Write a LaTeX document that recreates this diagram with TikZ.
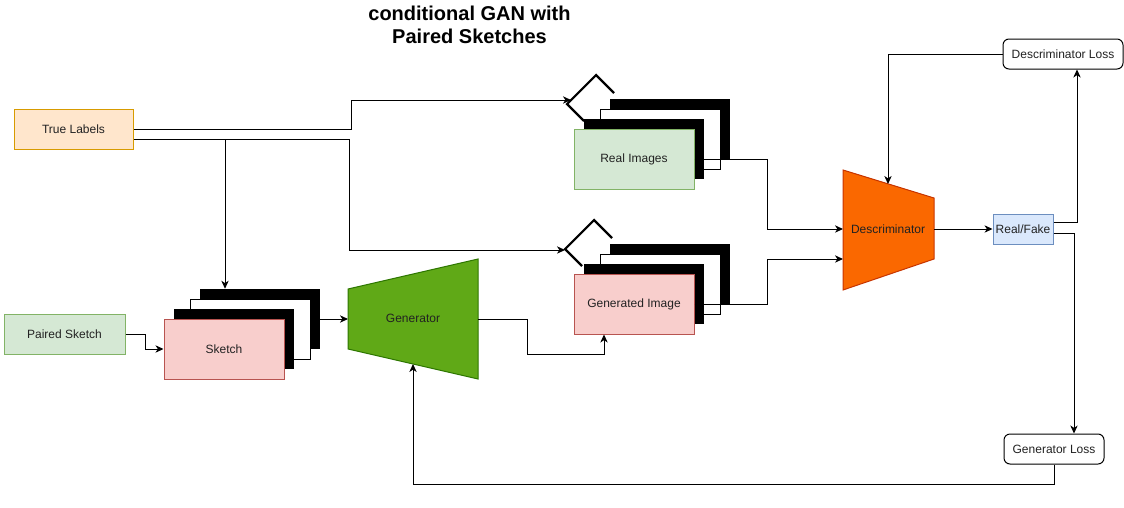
\documentclass[tikz,border=0pt]{standalone}
\usepackage{fontspec}
\setmainfont{Liberation Sans}
\usetikzlibrary{arrows.meta}
\definecolor{tlfill}{HTML}{FFE6CC}\definecolor{tldraw}{HTML}{D79B00}
\definecolor{gfill}{HTML}{D5E8D4}\definecolor{gdraw}{HTML}{82B366}
\definecolor{pfill}{HTML}{F8CECC}\definecolor{pdraw}{HTML}{B85450}
\definecolor{bfill}{HTML}{DAE8FC}\definecolor{bdraw}{HTML}{6C8EBF}
\definecolor{genfill}{HTML}{60A917}\definecolor{gendraw}{HTML}{2D7600}
\definecolor{disfill}{HTML}{FA6800}\definecolor{disdraw}{HTML}{C73500}
\definecolor{txt}{HTML}{222222}
\begin{document}
\begin{tikzpicture}[x=0.75pt,y=-0.75pt,
  lbl/.style={font=\fontsize{9}{11}\selectfont, text=txt},
  box/.style={rectangle, draw, line width=0.75pt, inner sep=0pt, lbl},
  card/.style={box, minimum width=90pt, minimum height=45pt},
  blackcard/.style={rectangle, fill=black, minimum width=90pt, minimum height=45pt, inner sep=0pt},
  whitecard/.style={rectangle, draw=black, fill=white, line width=0.75pt, minimum width=90pt, minimum height=45pt, inner sep=0pt},
  lossbox/.style={box, draw=black, fill=white, rounded corners=4.5pt, minimum height=22.5pt},
  chev/.style={draw=black, line width=1.6pt},
  conn/.style={draw=black, line width=0.75pt, -{Stealth[length=6pt,width=5.5pt,inset=1.8pt]}},
  ]
\useasboundingbox (0,0) rectangle (1124,507);

% title
\node[font=\bfseries\fontsize{15}{17.25}\selectfont, align=center] (title) at (469.5,24.5) {conditional GAN with\\Paired Sketches};

% input boxes
\node[box, fill=tlfill, draw=tldraw, minimum width=89.25pt, minimum height=30pt] (TL) at (73.5,129) {True Labels};
\node[box, fill=gfill, draw=gdraw, minimum width=90.75pt, minimum height=30pt] (PS) at (64.5,334) {Paired Sketch};

% sketch stack
\node[blackcard] (S4) at (260,319) {};
\node[whitecard] (S3) at (250,329) {};
\node[blackcard] (S2) at (234,339) {};
\node[card, fill=pfill, draw=pdraw] (S1) at (224,349) {Sketch};

% real images stack
\node[blackcard] (R4) at (670,129) {};
\node[whitecard] (R3) at (660,139) {};
\node[blackcard] (R2) at (644,149) {};
\node[card, fill=gfill, draw=gdraw] (R1) at (634,159) {Real Images};
\draw[chev] (584,121) -- (567,104) -- (596,75) -- (614,93);
\coordinate (RCh) at (571,100);

% generated image stack
\node[blackcard] (G4) at (670,274) {};
\node[whitecard] (G3) at (660,284) {};
\node[blackcard] (G2) at (644,294) {};
\node[card, fill=pfill, draw=pdraw] (G1) at (634,304) {Generated Image};
\draw[chev] (582,266) -- (565,249) -- (594,220) -- (612,238);
\coordinate (GCh) at (565,250);

% generator
\draw[fill=genfill, draw=gendraw, line width=0.75pt] (348,289) -- (478,259) -- (478,379) -- (348,349) -- cycle;
\node[lbl] (Gen) at (413,318) {Generator};
\coordinate (Gin) at (348,319);
\coordinate (Gout) at (478,319);
\coordinate (Gbot) at (413,364);

% discriminator
\draw[fill=disfill, draw=disdraw, line width=0.75pt] (843,170) -- (934,198) -- (934,259) -- (843,290) -- cycle;
\node[lbl] (Dis) at (888,229) {Descriminator};
\coordinate (Din1) at (843,229);
\coordinate (Din2) at (843,259);
\coordinate (Dout) at (934,229);
\coordinate (Dtop) at (888,184);

% output boxes
\node[box, fill=bfill, draw=bdraw, minimum width=45pt, minimum height=22.5pt] (RF) at (1023,229) {Real/Fake};
\node[lossbox, minimum width=90pt] (DL) at (1063,54) {Descriminator Loss};
\node[lossbox, minimum width=75pt] (GL) at (1054,449) {Generator Loss};

% connectors
\draw[conn] (TL.east) -- (351,129) -- (351,100) -- (RCh);
\draw[conn] ([yshift=-7.5pt]TL.east) -- (349,139) -- (349,250) -- (GCh);
\draw[conn] (225,139) -- (S4.north -| 225,139);
\draw[conn] (PS.east) -- (145,334) -- (145,349) -- (S1.west);
\draw[conn] (S4.east) -- (Gin);
\draw[conn] (Gout) -- (527,319) -- (527,354) -- (604,354) -- (G1.south -| 604,354);
\draw[conn] (R1.east) -- (767,159) -- (767,229) -- (Din1);
\draw[conn] (G1.east) -- (767,304) -- (767,259) -- (Din2);
\draw[conn] (Dout) -- (RF.west);
\draw[conn] ([yshift=5.25pt]RF.east) -- (1077,222) -- (DL.south -| 1077,222);
\draw[conn] (DL.west) -- (888,54) -- (Dtop);
\draw[conn] ([yshift=-3pt]RF.east) -- (1074,233) -- (GL.north -| 1074,233);
\draw[conn] (GL.south) -- (1054,484) -- (413,484) -- (Gbot);
\end{tikzpicture}
\end{document}
